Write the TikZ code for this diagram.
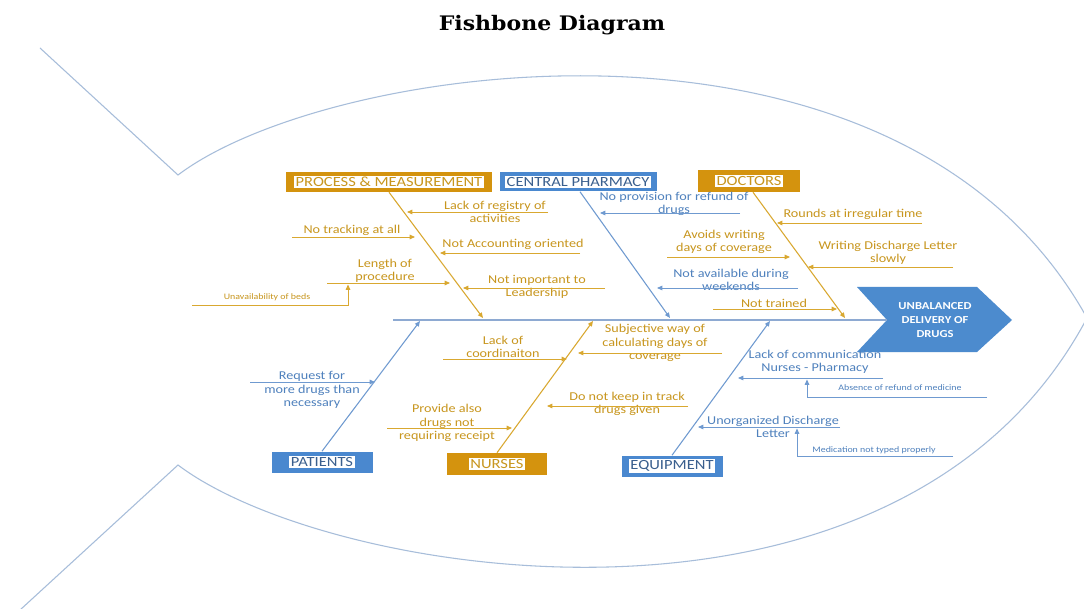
\documentclass[tikz,border=0pt]{standalone}
\usepackage{fontspec}
\setmainfont{Carlito}[FakeStretch=1.18]
\newfontfamily\titlefont{DejaVu Serif}[FakeStretch=1.1]
\usetikzlibrary{arrows.meta,calc}

\definecolor{outlinecol}{HTML}{A7BDDA}
\definecolor{spinecol}{HTML}{8EAAD2}
\definecolor{goldtext}{HTML}{C8961E}
\definecolor{goldline}{HTML}{D9A830}
\definecolor{goldbox}{HTML}{D4930E}
\definecolor{bluetext}{HTML}{4F81BD}
\definecolor{blueline}{HTML}{6F9AD0}
\definecolor{bluebox}{HTML}{4A88CF}
\definecolor{navytext}{HTML}{3A5F8E}
\definecolor{headblue}{HTML}{4C8BCE}

\newcommand{\causefont}{\fontsize{9}{10}\selectfont}
\newcommand{\tinyfont}{\fontsize{6.3}{7.5}\selectfont}
\newcommand{\catfont}{\fontsize{10.5}{12}\selectfont}

\tikzset{
  arrowend/.style={-{Triangle[length=4pt,width=3.4pt]}},
  goldarrow/.style={draw=goldline, line width=0.7pt, arrowend},
  bluearrow/.style={draw=blueline, line width=0.7pt, arrowend},
  goldbone/.style={draw=goldline, line width=0.8pt, arrowend},
  bluebone/.style={draw=blueline, line width=0.8pt, arrowend},
  goldtxt/.style={text=goldtext, font=\causefont, align=center, inner sep=0pt},
  bluetxt/.style={text=bluetext, font=\causefont, align=center, inner sep=0pt},
  goldtiny/.style={text=goldtext, font=\tinyfont, align=center, inner sep=0pt},
  bluetiny/.style={text=bluetext, font=\tinyfont, align=center, inner sep=0pt},
  catbox/.style={fill=#1, inner sep=0pt, font=\catfont},
}
\setlength{\fboxsep}{1.2pt}

\begin{document}
\begin{tikzpicture}[x=0.75pt,y=-0.75pt]
\useasboundingbox (0,0) rectangle (1084,609);
\fill[white] (0,0) rectangle (1084,609);

% title
\node[font=\titlefont\bfseries\fontsize{15}{18}\selectfont] (title) at (552,25) {Fishbone Diagram};

% fish outline: tail fins and body
\draw[outlinecol, line width=0.8pt] (40,48) -- (178,175)
  .. controls (330,60) and (900,-20) .. (1087,318)
  .. controls (900,670) and (330,580) .. (178,465) -- (20,610);

% head
\coordinate (notch) at (887,320);
\fill[headblue] (857,287) -- (977,287) -- (1012,320) -- (977,352) -- (857,352) -- (notch) -- cycle;
\node[text=white, font=\bfseries\fontsize{8}{10.5}\selectfont, align=center, inner sep=0pt] (effect) at (935,320) {UNBALANCED\\DELIVERY OF\\DRUGS};

% spine
\coordinate (spinestart) at (393,320);
\draw[spinecol, line width=0.8pt] (spinestart) -- (notch);

% category boxes
\node[catbox=goldbox, minimum width=154.5pt, minimum height=15pt] (pm) at (389,182)
  {\colorbox{white}{\textcolor{goldtext}{PROCESS \& MEASUREMENT}}};
\node[catbox=bluebox, minimum width=117.75pt, minimum height=14.25pt] (cp) at (578,182)
  {\colorbox{white}{\textcolor{navytext}{CENTRAL PHARMACY}}};
\node[catbox=goldbox, minimum width=76.5pt, minimum height=16.5pt] (doc) at (749,181)
  {\colorbox{white}{\textcolor{goldtext}{DOCTORS}}};
\node[catbox=bluebox, minimum width=75.75pt, minimum height=15.75pt] (pat) at (322,462)
  {\colorbox{white}{\textcolor{navytext}{PATIENTS}}};
\node[catbox=goldbox, minimum width=75pt, minimum height=16.5pt] (nur) at (497,464)
  {\colorbox{white}{\textcolor{goldtext}{NURSES}}};
\node[catbox=bluebox, minimum width=75.75pt, minimum height=15.75pt] (eq) at (672,466)
  {\colorbox{white}{\textcolor{navytext}{EQUIPMENT}}};

% main bones
\coordinate (pmend) at (483,318);
\coordinate (cpend) at (670,318);
\coordinate (docend) at (845,318);
\coordinate (patend) at (420,321);
\coordinate (nurend) at (593,321);
\coordinate (eqend) at (770,321);
\draw[goldbone] (pm.south) -- (pmend);
\draw[bluebone] ($(cp.south)+(2,0)$) -- (cpend);
\draw[goldbone] ($(doc.south)+(4,0)$) -- (docend);
\draw[bluebone] (pat.north) -- (patend);
\draw[goldbone] (nur.north) -- (nurend);
\draw[bluebone] (eq.north) -- (eqend);

% process & measurement causes
\coordinate (pm1a) at (548,212); \coordinate (pm1b) at (407,212);
\node[goldtxt] (pm1t) at (495,212) {Lack of registry of\\activities};
\draw[goldarrow] (pm1a) -- (pm1b);
\coordinate (pm2a) at (292,237); \coordinate (pm2b) at (415,237);
\node[goldtxt] (pm2t) at (352,230) {No tracking at all};
\draw[goldarrow] (pm2a) -- (pm2b);
\coordinate (pm3a) at (580,253); \coordinate (pm3b) at (440,253);
\node[goldtxt] (pm3t) at (513,244) {Not Accounting oriented};
\draw[goldarrow] (pm3a) -- (pm3b);
\coordinate (pm4a) at (327,283); \coordinate (pm4b) at (450,283);
\node[goldtxt] (pm4t) at (385,271) {Length of\\procedure};
\draw[goldarrow] (pm4a) -- (pm4b);
\coordinate (pm4sa) at (192,305); \coordinate (pm4sb) at (348,284.5);
\node[goldtiny] (pm4st) at (267,297) {Unavailability of beds};
\draw[goldarrow] (pm4sa) -| (pm4sb);
\coordinate (pm5a) at (605,288); \coordinate (pm5b) at (463,288);
\node[goldtxt] (pm5t) at (537,287) {Not important to\\Leadership};
\draw[goldarrow] (pm5a) -- (pm5b);

% central pharmacy causes
\coordinate (cp1a) at (740,213); \coordinate (cp1b) at (600,213);
\node[bluetxt] (cp1t) at (674,204) {No provision for refund of\\drugs};
\draw[bluearrow] (cp1a) -- (cp1b);
\coordinate (cp2a) at (798,288); \coordinate (cp2b) at (657,288);
\node[bluetxt] (cp2t) at (731,280) {Not available during\\weekends};
\draw[bluearrow] (cp2a) -- (cp2b);

% doctors causes
\coordinate (doc1a) at (922,223); \coordinate (doc1b) at (777,223);
\node[goldtxt] (doc1t) at (853,214) {Rounds at irregular time};
\draw[goldarrow] (doc1a) -- (doc1b);
\coordinate (doc2a) at (667,257); \coordinate (doc2b) at (790,257);
\node[goldtxt] (doc2t) at (724,242) {Avoids writing\\days of coverage};
\draw[goldarrow] (doc2a) -- (doc2b);
\coordinate (doc3a) at (953,267); \coordinate (doc3b) at (808,267);
\node[goldtxt] (doc3t) at (888,253) {Writing Discharge Letter\\slowly};
\draw[goldarrow] (doc3a) -- (doc3b);
\coordinate (doc4a) at (713,309); \coordinate (doc4b) at (837,309);
\node[goldtxt] (doc4t) at (774,303) {Not trained};
\draw[goldarrow] (doc4a) -- (doc4b);

% patients causes
\coordinate (pat1a) at (250,382); \coordinate (pat1b) at (375,382);
\node[bluetxt] (pat1t) at (312,390) {Request for\\more drugs than\\necessary};
\draw[bluearrow] (pat1a) -- (pat1b);

% nurses causes
\coordinate (nur1a) at (443,359); \coordinate (nur1b) at (567,359);
\node[goldtxt] (nur1t) at (503,347) {Lack of\\coordinaiton};
\draw[goldarrow] (nur1a) -- (nur1b);
\coordinate (nur2a) at (722,353); \coordinate (nur2b) at (578,353);
\node[goldtxt] (nur2t) at (655,343) {Subjective way of\\calculating days of\\coverage};
\draw[goldarrow] (nur2a) -- (nur2b);
\coordinate (nur3a) at (688,406); \coordinate (nur3b) at (547,406);
\node[goldtxt] (nur3t) at (627,404) {Do not keep in track\\drugs given};
\draw[goldarrow] (nur3a) -- (nur3b);
\coordinate (nur4a) at (387,428); \coordinate (nur4b) at (512,428);
\node[goldtxt] (nur4t) at (447,423) {Provide also\\drugs not\\requiring receipt};
\draw[goldarrow] (nur4a) -- (nur4b);

% equipment causes
\coordinate (eq1a) at (883,378); \coordinate (eq1b) at (738,378);
\node[bluetxt] (eq1t) at (815,362) {Lack of communication\\Nurses - Pharmacy};
\draw[bluearrow] (eq1a) -- (eq1b);
\coordinate (eq1sa) at (987,397); \coordinate (eq1sb) at (807,379.5);
\node[bluetiny] (eq1st) at (900,388) {Absence of refund of medicine};
\draw[bluearrow] (eq1sa) -| (eq1sb);
\coordinate (eq2a) at (840,427); \coordinate (eq2b) at (698,427);
\node[bluetxt] (eq2t) at (773,427) {Unorganized Discharge\\Letter};
\draw[bluearrow] (eq2a) -- (eq2b);
\coordinate (eq2sa) at (953,456); \coordinate (eq2sb) at (797,428.5);
\node[bluetiny] (eq2st) at (874,450) {Medication not typed properly};
\draw[bluearrow] (eq2sa) -| (eq2sb);

\end{tikzpicture}
\end{document}
